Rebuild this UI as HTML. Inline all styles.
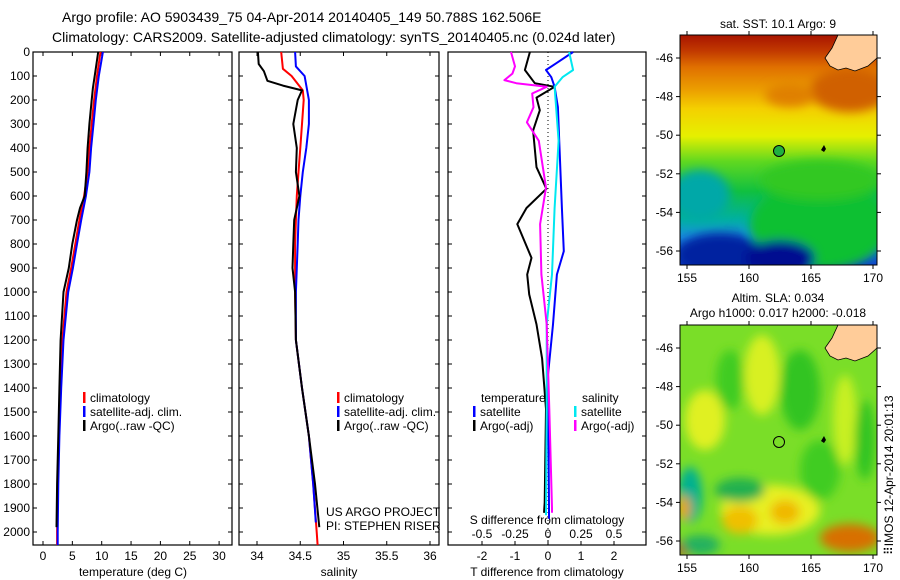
<!DOCTYPE html>
<html><head><meta charset="utf-8">
<style>
body{margin:0;background:#fff;}
svg{display:block;font-family:"Liberation Sans",sans-serif;}
text{fill:#000;}
</style></head>
<body>
<svg id="chart" width="900" height="580" viewBox="0 0 900 580">
<defs>
<filter id="blur" x="-20%" y="-20%" width="140%" height="140%"><feGaussianBlur stdDeviation="5"/></filter>
<clipPath id="m1clip"><rect x="680" y="35" width="197" height="230"/></clipPath>
<clipPath id="m2clip"><rect x="680" y="325" width="197" height="230"/></clipPath>
<linearGradient id="sstgrad" x1="0" y1="0" x2="0" y2="1">
<stop offset="0" stop-color="#a81400"/><stop offset="0.07" stop-color="#c23a00"/>
<stop offset="0.14" stop-color="#e07000"/><stop offset="0.24" stop-color="#eca000"/>
<stop offset="0.32" stop-color="#f4d000"/><stop offset="0.44" stop-color="#e6f000"/>
<stop offset="0.55" stop-color="#60d820"/><stop offset="0.68" stop-color="#10c040"/>
<stop offset="0.8" stop-color="#00b0a0"/><stop offset="0.88" stop-color="#1890e0"/>
<stop offset="1" stop-color="#1040d0"/>
</linearGradient>
</defs>
<text x="62" y="22" font-size="14">Argo profile: AO 5903439_75 04-Apr-2014 20140405_149 50.788S 162.506E</text>
<text x="52" y="42" font-size="14">Climatology: CARS2009. Satellite-adjusted climatology: synTS_20140405.nc (0.024d later)</text>
<g id="panels"></g>
<g>
<g clip-path="url(#m1clip)">
<rect x="680" y="35" width="197" height="230" fill="url(#sstgrad)"/>
<g filter="url(#blur)">
<ellipse cx="820" cy="225" rx="70" ry="45" fill="#10c030"/>
<ellipse cx="720" cy="255" rx="45" ry="22" fill="#0020a0"/>
<ellipse cx="780" cy="258" rx="35" ry="18" fill="#000c90"/>
<ellipse cx="700" cy="195" rx="30" ry="25" fill="#00a8a8"/>
<ellipse cx="820" cy="180" rx="60" ry="20" fill="#30c820"/>
<ellipse cx="850" cy="90" rx="40" ry="22" fill="#d06000"/>
<ellipse cx="790" cy="95" rx="25" ry="12" fill="#e08000"/>
</g>
<polygon points="838,35 877,35 877,58 868,66 855,71 846,68 838,70 830,66 825,58 832,48" fill="#ffcc99" stroke="#000" stroke-width="0.8"/>
</g>
<rect x="680" y="35" width="197" height="230" fill="none" stroke="#000"/>
<circle cx="779" cy="151" r="5.5" fill="#20b040" stroke="#000"/>
<path d="M821,150 l3,-5 2,4 -2,3z" fill="#000"/>
<text x="778" y="28" font-size="12" text-anchor="middle">sat. SST: 10.1 Argo: 9</text>
<g id="m1ticks" font-size="12"></g>
</g>
<g>
<g clip-path="url(#m2clip)">
<rect x="680" y="325" width="197" height="230" fill="#7ade28"/>
<g filter="url(#blur)">
<ellipse cx="762" cy="375" rx="18" ry="40" fill="#d8f020"/>
<ellipse cx="705" cy="420" rx="20" ry="30" fill="#e0f020"/>
<ellipse cx="730" cy="380" rx="14" ry="30" fill="#40cc20"/>
<ellipse cx="800" cy="390" rx="20" ry="40" fill="#30c420"/>
<ellipse cx="770" cy="510" rx="50" ry="25" fill="#e8f020"/>
<ellipse cx="740" cy="520" rx="18" ry="14" fill="#f0c000"/>
<ellipse cx="785" cy="512" rx="15" ry="12" fill="#f0b800"/>
<ellipse cx="845" cy="420" rx="12" ry="45" fill="#c8f020"/>
<ellipse cx="865" cy="440" rx="10" ry="40" fill="#30c420"/>
<ellipse cx="690" cy="495" rx="12" ry="28" fill="#00b090"/>
<ellipse cx="740" cy="490" rx="25" ry="12" fill="#20b050"/>
<ellipse cx="850" cy="538" rx="30" ry="14" fill="#d87000"/>
<ellipse cx="684" cy="548" rx="10" ry="8" fill="#c04000"/>
<ellipse cx="684" cy="508" rx="6" ry="12" fill="#f0a000"/>
<ellipse cx="820" cy="470" rx="20" ry="30" fill="#40cc20"/>
<ellipse cx="700" cy="545" rx="20" ry="10" fill="#20b060"/>
</g>
<polygon points="838,325 877,325 877,348 868,356 855,361 846,358 838,360 830,356 825,348 832,338" fill="#ffcc99" stroke="#000" stroke-width="0.8"/>
</g>
<rect x="680" y="325" width="197" height="230" fill="none" stroke="#000"/>
<circle cx="779" cy="442" r="5.5" fill="none" stroke="#000"/>
<path d="M821,441 l3,-5 2,4 -2,3z" fill="#000"/>
<text x="778" y="302" font-size="12" text-anchor="middle">Altim. SLA: 0.034</text>
<text x="778" y="317" font-size="12" text-anchor="middle">Argo h1000: 0.017 h2000: -0.018</text>
<g id="m2ticks" font-size="12"></g>
</g>
<text transform="translate(893,555) rotate(-90)" font-size="12">⠿IMOS 12-Apr-2014 20:01:13</text>
</svg>
<script>
const depthT_clim = [0,100,200,300,400,500,600,700,800,900,1000,1200,1400,1600,1800,2000,2054];
const temp_clim   = [9.8,9.2,8.7,8.3,7.9,7.6,7.0,6.2,5.5,4.8,4.0,3.3,3.0,2.7,2.5,2.4,2.4];
const temp_sat    = [10.2,9.5,9.0,8.6,8.2,7.9,7.3,6.5,5.8,5.1,4.3,3.5,3.1,2.8,2.6,2.5,2.5];
const depthT_argo = [0,100,150,200,300,400,500,600,650,700,800,900,1000,1200,1400,1600,1800,1980];
const temp_argo   = [9.4,8.8,8.5,8.3,7.9,7.6,7.4,7.1,6.3,5.8,5.0,4.4,3.5,3.0,2.8,2.6,2.4,2.3];

const depthS_clim = [0,70,100,160,200,300,400,500,600,700,800,900,1000,1200,1400,1600,1800,2000,2054];
const sal_clim    = [34.28,34.30,34.40,34.53,34.54,34.52,34.50,34.48,34.46,34.45,34.44,34.44,34.44,34.45,34.52,34.60,34.65,34.69,34.70];
const depthS_sat  = [0,60,100,200,300,400,500,600,700,800,900,1000,1200,1400,1600,1800,1960];
const sal_sat     = [34.44,34.45,34.55,34.60,34.60,34.57,34.53,34.50,34.48,34.47,34.46,34.45,34.45,34.52,34.60,34.65,34.68];
const depthS_argo = [0,50,80,120,140,160,200,300,400,500,600,700,800,900,1000,1200,1400,1600,1800,1980];
const sal_argo    = [34.01,34.02,34.08,34.12,34.30,34.52,34.47,34.42,34.46,34.45,34.49,34.43,34.42,34.41,34.44,34.45,34.52,34.60,34.67,34.72];

const depthD_T  = [0,75,130,145,190,243,327,480,570,650,717,858,927,1010,1135,1277,1487,1877,1920];
const dT_argo   = [-0.55,-0.7,-0.4,0.2,-0.35,-0.25,-0.45,-0.35,-0.05,-0.65,-0.93,-0.5,-0.63,-0.57,-0.35,-0.18,-0.06,-0.1,-0.12];
const depthD_Ts = [0,45,75,105,145,230,440,650,830,927,1135,1345,1900,1945];
const dT_sat    = [0.76,0.27,-0.06,0.1,0.2,0.3,0.36,0.42,0.48,0.27,0.15,0.0,0.03,0.03];
const depthD_Ss = [0,75,105,145,370,650,927,1135,1487,1930];
const dS_sat    = [0.16,0.19,0.11,0.05,0.08,0.05,0.03,-0.01,-0.01,-0.015];
const depthD_Sa = [0,60,90,117,130,145,173,230,293,370,565,717,927,1135,1487,1900,1920];
const dS_argo   = [-0.28,-0.25,-0.27,-0.33,-0.24,-0.01,-0.12,-0.11,-0.16,-0.07,-0.015,-0.06,-0.05,-0.01,0.01,0.03,0.03];

const depthTicks = [0,100,200,300,400,500,600,700,800,900,1000,1100,1200,1300,1400,1500,1600,1700,1800,1900,2000];
const tempTicks = [0,5,10,15,20,25,30];
const salTicks = [34,34.5,35,35.5,36];
const salTickLabels = ["34","34.5","35","35.5","36"];
const dTTicks = [-2,-1,0,1,2];
const dSTicks = [-0.5,-0.25,0,0.25,0.5];
const dSTickLabels = ["-0.5","-0.25","0","0.25","0.5"];
const lonTicks = [155,160,165,170];
const latTicks = [-46,-48,-50,-52,-54,-56];

const yD = d => 52 + d*0.24;
const xT = t => 43 + t*5.87;
const xS = s => 257 + (s-34)*86.5;
const xDT = v => 548 + v*33;
const xDS = v => 548 + v*132;
const xLon = l => 687 + (l-155)*12.4;
const yLat1 = l => 58 + (-46-l)*19.3;
const yLat2 = l => 348 + (-46-l)*19.3;

const NS="http://www.w3.org/2000/svg";
const root=document.getElementById('panels');
function mk(tag,attrs,parent){const e=document.createElementNS(NS,tag);for(const k in attrs)e.setAttribute(k,attrs[k]);(parent||root).appendChild(e);return e;}
function txt(x,y,s,size,anchor,parent){const t=mk('text',{x:x,y:y,'font-size':size,'text-anchor':anchor||'start'},parent);t.textContent=s;return t;}

const panels=[{x0:33,x1:232},{x0:239,x1:439},{x0:448,x1:646}];
panels.forEach((p,i)=>{
  const r=mk('rect',{x:p.x0,y:52,width:p.x1-p.x0,height:493,fill:'none',stroke:'#000','stroke-width':1.2});
  
  
  depthTicks.forEach(d=>{
    mk('line',{x1:p.x0,x2:p.x0+4,y1:yD(d),y2:yD(d),stroke:'#000'});
    mk('line',{x1:p.x1,x2:p.x1-4,y1:yD(d),y2:yD(d),stroke:'#000'});
  });
});
depthTicks.forEach(d=>{
  const t=txt(30,yD(d)+4,String(d),12,'end');
  
  
});
tempTicks.forEach(v=>{
  mk('line',{x1:xT(v),x2:xT(v),y1:545,y2:541,stroke:'#000'});
  mk('line',{x1:xT(v),x2:xT(v),y1:52,y2:56,stroke:'#000'});
  const t=txt(xT(v),560,String(v),12,'middle');
  
  
});
salTicks.forEach((v,i)=>{
  mk('line',{x1:xS(v),x2:xS(v),y1:545,y2:541,stroke:'#000'});
  mk('line',{x1:xS(v),x2:xS(v),y1:52,y2:56,stroke:'#000'});
  const t=txt(xS(v),560,salTickLabels[i],12,'middle');
  
  
});
dTTicks.forEach(v=>{
  mk('line',{x1:xDT(v),x2:xDT(v),y1:545,y2:541,stroke:'#000'});
  const t=txt(xDT(v),560,String(v),12,'middle');
  
  
});
dSTicks.forEach((v,i)=>{
  const t=txt(xDS(v),538,dSTickLabels[i],12,'middle');
  
  
});
let a;
a=txt(133,576,'temperature (deg C)',12,'middle');
a=txt(339,576,'salinity',12,'middle');
a=txt(547,576,'T difference from climatology',12,'middle');
a=txt(547,524,'S difference from climatology',12,'middle');
a=txt(326,516,'US ARGO PROJECT',12);
a=txt(326,530,'PI: STEPHEN RISER',12);

mk('line',{x1:548,x2:548,y1:52,y2:545,stroke:'#000','stroke-dasharray':'1,3'});

function line(xs,ds,xf,color,name){
  const pts=xs.map((v,i)=>xf(v).toFixed(1)+','+yD(ds[i]).toFixed(1)).join(' ');
  const p=mk('polyline',{points:pts,fill:'none',stroke:color,'stroke-width':2,'stroke-linejoin':'round'});
  
  
}
line(temp_clim,depthT_clim,xT,'#ff0000','temperature-climatology-line');
line(temp_sat,depthT_clim,xT,'#0000ff','temperature-satellite-line');
line(temp_argo,depthT_argo,xT,'#000000','temperature-argo-line');
line(sal_clim,depthS_clim,xS,'#ff0000','salinity-climatology-line');
line(sal_sat,depthS_sat,xS,'#0000ff','salinity-satellite-line');
line(sal_argo,depthS_argo,xS,'#000000','salinity-argo-line');
line(dT_argo,depthD_T,xDT,'#000000','t-diff-argo-line');
line(dT_sat,depthD_Ts,xDT,'#0000ff','t-diff-satellite-line');
line(dS_sat,depthD_Ss,xDS,'#00e8f0','s-diff-satellite-line');
line(dS_argo,depthD_Sa,xDS,'#ff00ff','s-diff-argo-line');

function legend(x,y,color,label){
  const g=mk('g',{});
  
  
  mk('rect',{x:x,y:y-10,width:2.5,height:11,fill:color},g);
  txt(x+7,y,label,12,'start',g);
}
legend(83,402,'#ff0000','climatology');
legend(83,416,'#0000ff','satellite-adj. clim.');
legend(83,430,'#000000','Argo(..raw -QC)');
legend(337,402,'#ff0000','climatology');
legend(337,416,'#0000ff','satellite-adj. clim.');
legend(337,430,'#000000','Argo(..raw -QC)');
a=txt(481,402,'temperature',12);
a=txt(582,402,'salinity',12);
legend(473,416,'#0000ff','satellite');
legend(473,430,'#000000','Argo(-adj)');
legend(574,416,'#00e8f0','satellite');
legend(574,430,'#ff00ff','Argo(-adj)');

[[document.getElementById('m1ticks'),yLat1,35,265],[document.getElementById('m2ticks'),yLat2,325,555]].forEach(([g,yl,top,bot],mi)=>{
  lonTicks.forEach(l=>{
    mk('line',{x1:xLon(l),x2:xLon(l),y1:bot,y2:bot+4,stroke:'#000'},g);
    mk('line',{x1:xLon(l),x2:xLon(l),y1:top,y2:top-4,stroke:'#000'},g);
    const t=txt(xLon(l),bot+17,String(l),12,'middle',g);
    
    
  });
  latTicks.forEach(l=>{
    mk('line',{x1:676,x2:680,y1:yl(l),y2:yl(l),stroke:'#000'},g);
    mk('line',{x1:877,x2:881,y1:yl(l),y2:yl(l),stroke:'#000'},g);
    const t=txt(673,yl(l)+4,String(l),12,'end',g);
    
    
  });
});
</script>
</body></html>
